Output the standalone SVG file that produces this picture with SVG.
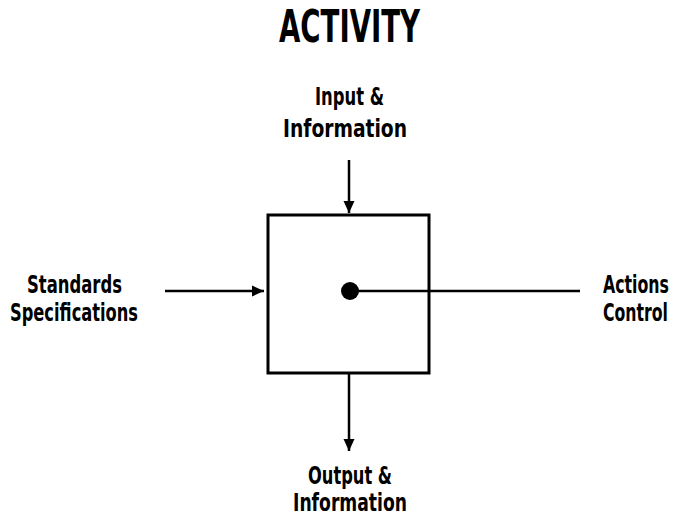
<svg xmlns="http://www.w3.org/2000/svg" width="677" height="518" viewBox="0 0 677 518">
<defs>
<style>
text{font-family:"DejaVu Sans Condensed","DejaVu Sans","Liberation Sans",sans-serif;font-stretch:condensed;fill:#000;text-anchor:middle}
.t{font-size:44px;font-weight:bold}
.l{font-size:25px;font-weight:600}
.ln{stroke:#000;stroke-width:2.5;fill:none}
</style>
<marker id="ah" markerWidth="12" markerHeight="12" viewBox="0 0 12 12" refX="12" refY="6" orient="auto" markerUnits="userSpaceOnUse">
<path d="M0,0.5 L12,6 L0,11.5 Z" fill="#000"/>
</marker>
</defs>
<rect width="677" height="518" fill="#fff"/>
<g id="title"><text class="t" x="349.5" y="42" textLength="141" lengthAdjust="spacingAndGlyphs">ACTIVITY</text></g>
<g id="activity">
<rect x="268" y="215" width="161" height="158" fill="#fff" stroke="#000" stroke-width="3"/>
<circle cx="350" cy="291" r="9" fill="#000"/>
</g>
<g id="input"><text class="l" x="349.5" y="105" textLength="69" lengthAdjust="spacingAndGlyphs">Input &amp;</text><text class="l" x="345" y="137" textLength="124" lengthAdjust="spacingAndGlyphs">Information</text></g>
<g id="standards"><text class="l" x="74.5" y="293" textLength="95" lengthAdjust="spacingAndGlyphs">Standards</text><text class="l" x="74" y="321" textLength="128" lengthAdjust="spacingAndGlyphs">Specifications</text></g>
<g id="actions"><text class="l" x="636" y="293" textLength="66" lengthAdjust="spacingAndGlyphs">Actions</text><text class="l" x="635.5" y="321" textLength="65" lengthAdjust="spacingAndGlyphs">Control</text></g>
<g id="output"><text class="l" x="350" y="484" textLength="84" lengthAdjust="spacingAndGlyphs">Output &amp;</text><text class="l" x="350" y="511" textLength="114" lengthAdjust="spacingAndGlyphs">Information</text></g>
<g id="connectors">
<line class="ln" x1="349" y1="160" x2="349" y2="213" marker-end="url(#ah)"/>
<line class="ln" x1="165" y1="291" x2="264" y2="291" marker-end="url(#ah)"/>
<line class="ln" x1="350" y1="291" x2="580" y2="291"/>
<line class="ln" x1="349" y1="373" x2="349" y2="451" marker-end="url(#ah)"/>
</g>
</svg>
